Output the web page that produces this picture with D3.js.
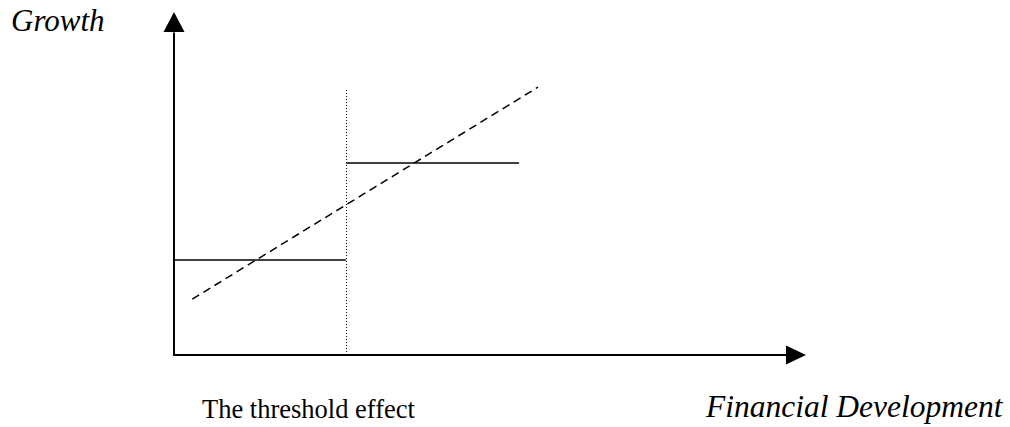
<!DOCTYPE html>
<html>
<head>
<meta charset="utf-8">
<script src="https://cdn.jsdelivr.net/npm/d3@7"></script>
<style>
  html, body { margin: 0; padding: 0; background: #fff; }
  svg { display: block; }
  text { font-family: "Liberation Serif", "Times New Roman", serif; fill: #000; }
</style>
</head>
<body>
<svg id="chart" width="1010" height="427"></svg>
<script>
// ---- data (arbitrary conceptual units) ----
const xDomain = [0, 100];
const yDomain = [0, 100];
const thresholdX = [27.2];
const thresholdTop = [77.8];
const regimeX0 = [0, 27.2];
const regimeX1 = [27.2, 54.6];
const regimeY = [27.7, 56.0];
const linearX = [2.9, 57.6];
const linearY = [16.3, 78.1];
const labels = ["Growth", "The threshold effect", "Financial Development"];

const svg = d3.select("#chart");
const x = d3.scaleLinear().domain(xDomain).range([174, 806]);
const y = d3.scaleLinear().domain(yDomain).range([355, 12]);

// axes lines
svg.append("line")
  .attr("x1", x(0)).attr("y1", y(0)).attr("x2", x(0)).attr("y2", y(94))
  .attr("stroke", "#000").attr("stroke-width", 2);
svg.append("line")
  .attr("x1", x(0) - 1).attr("y1", y(0)).attr("x2", x(97)).attr("y2", y(0))
  .attr("stroke", "#000").attr("stroke-width", 2);

// arrowheads
const tipY = y(100), tipX = x(100);
svg.append("path")
  .attr("d", `M${x(0)},${tipY} L${x(0) - 10.5},${tipY + 20} L${x(0) + 10.5},${tipY + 20} Z`)
  .attr("fill", "#000");
svg.append("path")
  .attr("d", `M${tipX},${y(0)} L${tipX - 20},${y(0) - 9.5} L${tipX - 20},${y(0) + 9.5} Z`)
  .attr("fill", "#000");

// dotted threshold line
svg.selectAll("line.thr").data(thresholdX).join("line")
  .attr("class", "thr")
  .attr("x1", d => Math.round(x(d)) + 0.5).attr("x2", d => Math.round(x(d)) + 0.5)
  .attr("y1", y(0)).attr("y2", y(thresholdTop[0]))
  .attr("stroke", "#000").attr("stroke-width", 1)
  .attr("shape-rendering", "crispEdges")
  .attr("stroke-dasharray", "1,2");

// regime levels
svg.selectAll("line.reg").data(regimeY).join("line")
  .attr("class", "reg")
  .attr("x1", (d, i) => x(regimeX0[i])).attr("x2", (d, i) => x(regimeX1[i]))
  .attr("y1", d => y(d)).attr("y2", d => y(d))
  .attr("stroke", "#000").attr("stroke-width", 1.5);

// dashed linear relationship
const lineGen = d3.line().x(d => x(d[0])).y(d => y(d[1]));
svg.append("path")
  .datum(linearX.map((v, i) => [v, linearY[i]]))
  .attr("d", lineGen)
  .attr("fill", "none").attr("stroke", "#000").attr("stroke-width", 1.5)
  .attr("stroke-dasharray", "8,5");

// labels
svg.append("text").attr("x", 11).attr("y", 31)
  .style("font-style", "italic").style("font-size", "31px").text(labels[0]);
svg.append("text").attr("x", 202).attr("y", 418)
  .style("font-size", "26.5px").text(labels[1]);
svg.append("text").attr("x", 706).attr("y", 417)
  .style("font-style", "italic").style("font-size", "31.5px").text(labels[2]);
</script>
</body>
</html>
